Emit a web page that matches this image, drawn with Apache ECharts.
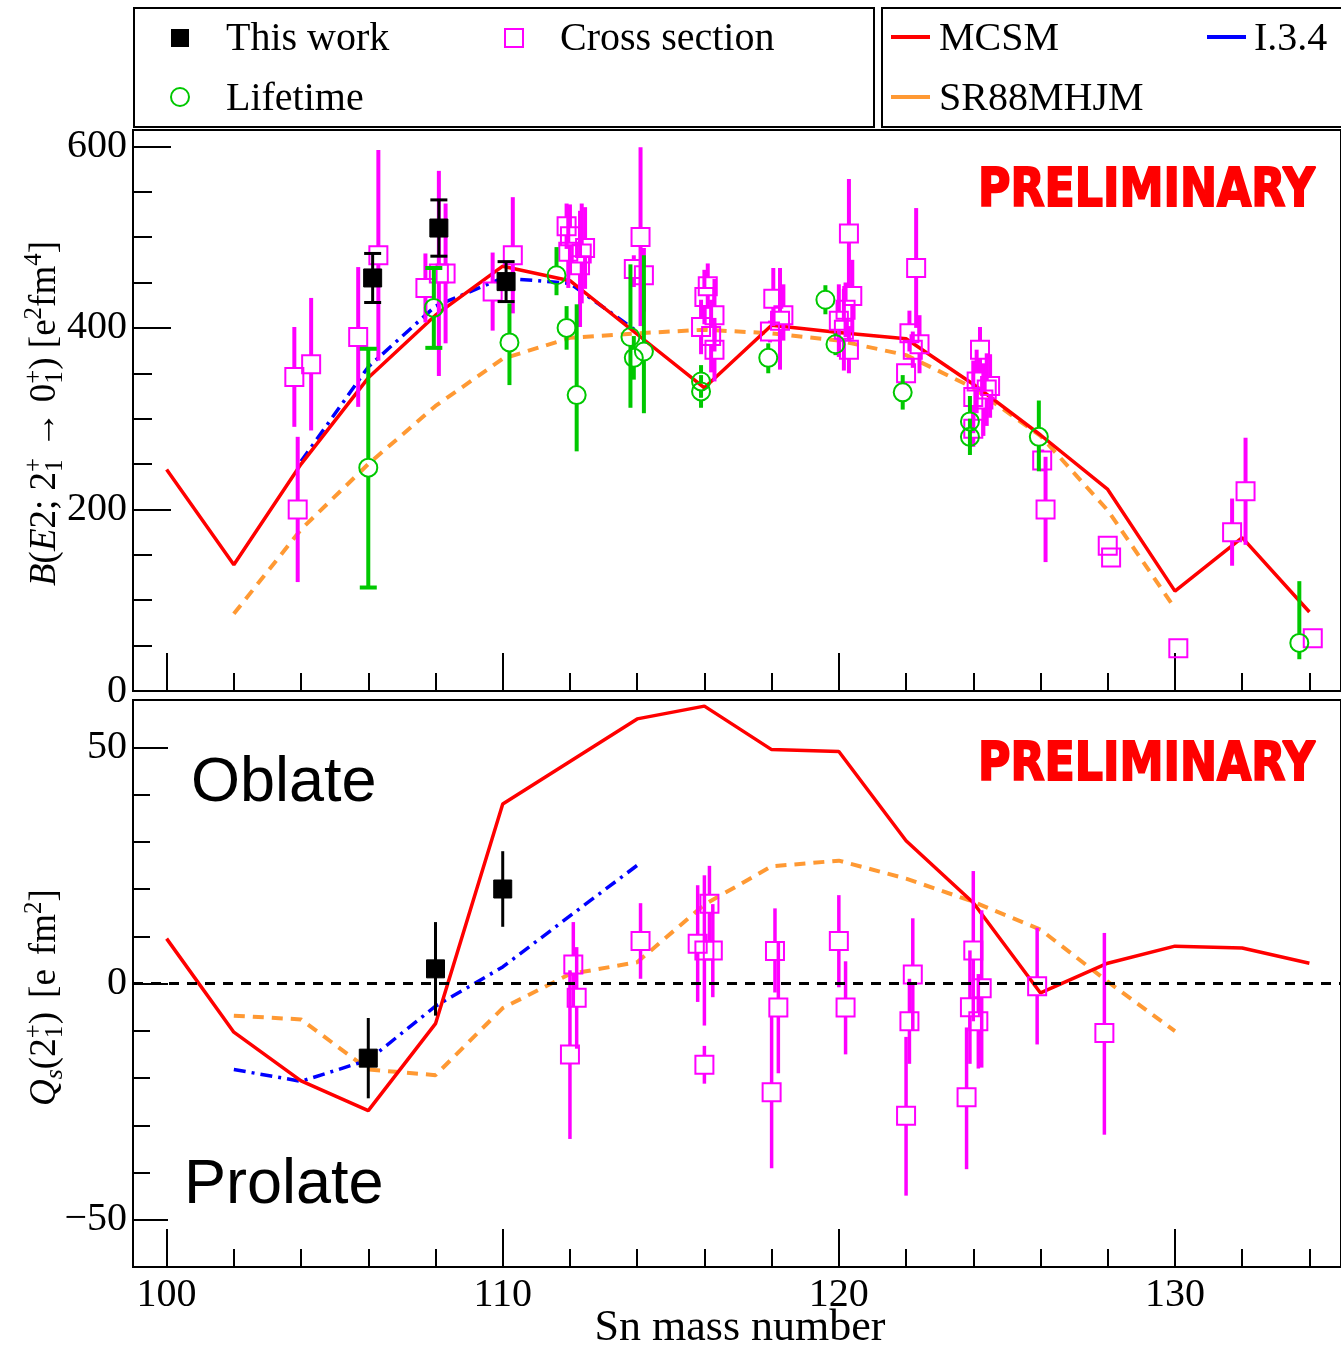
<!DOCTYPE html>
<html><head><meta charset="utf-8">
<script src="https://cdn.jsdelivr.net/npm/echarts@6/dist/echarts.min.js"></script>
<style>html,body{margin:0;padding:0;background:#fff}#c{width:1341px;height:1346px}</style>
</head><body><div id="c"></div>
<script>
// ================= DATA =================
// Theory calculations (even Sn isotopes)
const massEven = [100,102,104,106,108,110,112,114,116,118,120,122,124,126,128,130,132,134];
const mcsmBE2  = [244,139,250,345,414,468,452,393,334,403,395,388,338,282,222,110,169,87];
const mcsmQ    = [9.5,-10.3,-20.6,-26.9,-8.5,38.0,47.0,56.0,58.7,49.5,49.1,30.2,17.1,-2.0,4.3,7.9,7.5,4.3];

const i34MassBE2 = [104,106,108,110,112,114];
const i34BE2     = [253,357,424,455,449,396];
const i34MassQ   = [102,104,106,108,110,112,114];
const i34Q       = [-18.2,-20.7,-16.2,-4.8,3.5,14.3,25.0];

const sr88Mass = [102,104,106,108,110,112,114,116,118,120,122,124,126,128,130];
const sr88BE2  = [85,178,250,314,366,389,394,398,394,386,370,334,281,199,91];
const sr88Q    = [-6.8,-7.6,-18.2,-19.4,-5.2,2.0,4.5,16.7,24.8,26.0,22.2,17.3,11.4,0.4,-10.1];

// Experimental points: [mass, value, error below, error above]
const thisWorkBE2 = [[106.13,455,27,27],[108.1,510,31,31],[110.1,451,22,22]];
const thisWorkQ   = [[106.0,-15.8,8.5,8.5],[108.0,3.1,9.9,9.9],[110.0,20.0,8,8]];

const lifetimeBE2Capped = [[106.0,246,132,131],[107.95,422,44,44]];
const lifetimeBE2 = [
  [110.2,384,47,43],[111.6,458,22,31],[111.9,400,24,24],[112.2,326,62,100],
  [113.8,390,78,80],[113.9,367,24,24],[114.2,374,68,106],
  [115.9,341,18,18],[115.9,330,18,18],[117.9,367,17,16],
  [119.6,431,16,16],[119.9,382,12,12],[121.9,329,19,19],
  [123.9,297,28,28],[123.9,280,20,20],[125.95,280,38,40],[133.7,53,18,68]
];

const crossBE2 = [
  [103.8,346,55,55],[104.3,360,73,73],[103.9,200,80,80],
  [105.7,390,77,77],[106.3,480,116,116],
  [107.7,444,38,38],[108.1,460,113,113],[108.3,460,77,77],
  [109.7,440,43,43],[110.3,480,64,64],
  [111.9,512,25,25],[112.0,501,35,35],[111.95,484,40,40],[112.35,482,55,55],[112.3,469,68,60],[112.45,488,45,45],
  [114.1,500,98,99],[113.9,465,20,15],[114.2,458,40,30],
  [116.1,446,25,25],[116.0,434,30,30],[116.3,414,40,40],[115.9,401,30,30],[116.2,391,40,40],[116.3,376,35,35],
  [118.05,432,30,34],[118.35,414,28,34],[118.25,408,54,58],[117.95,396,12,12],
  [120.3,504,60,60],[120.4,435,40,40],[120.2,420,30,30],[120.0,408,40,40],[120.15,398,45,45],[120.3,376,26,26],
  [122.3,466,66,66],[122.1,394,20,25],[122.4,382,32,32],[122.2,376,20,20],[122.0,350,8,8],
  [124.2,376,25,25],[124.1,341,35,35],[124.0,324,40,40],[124.4,332,40,40],[124.5,336,35,35],[124.3,321,40,40],[124.0,289,20,20],
  [126.05,254,12,12],[126.15,200,58,58],
  [128.0,160,0,0],[128.1,147,0,0],
  [130.1,47,0,0],
  [131.7,175,37,37],[132.1,220,59,59],
  [134.1,58,0,0]
];

const crossQ = [
  [112.1,4.0,9,9],[112.2,-3.0,10.8,10.7],[112.0,-15.0,17.9,17.8],
  [114.1,9.0,8,8],
  [115.8,8.4,12.3,12.4],[116.15,16.9,8,8],[116.0,7.0,15.9,15.9],[116.25,7.0,9.9,9.8],[116.0,-17.2,4,4],
  [118.1,6.9,8.8,9.0],[118.2,-5.1,13.9,13.7],[118.0,-23.0,16.1,16],
  [120.0,9.0,9.8,9.7],[120.2,-5.1,9.9,9.8],
  [122.2,1.9,11.9,11.9],[122.1,-8.0,9,9],[122.0,-28.0,16.9,16.7],
  [124.0,7.0,15,16.8],[124.25,-1.0,16.8,16.5],[123.9,-5.0,12,12],[124.15,-8.0,10,10],[123.8,-24.1,15.2,14.8],
  [125.9,-0.6,12.3,12.4],
  [127.9,-10.5,21.5,21.2]
];

// Axis ticks / labels
const xMajorTicks = [100,110,120,130];
const xMinorTicks = [102,104,106,108,112,114,116,118,122,124,126,128,132,134];
const yTopMajor = [0,200,400,600];
const yTopMinor = [50,100,150,250,300,350,450,500,550];
const yBotMajor = [-50,0,50];
const yBotMinor = [-40,-30,-20,-10,10,20,30,40];

// ================= CHART =================
const X_MIN = 99.0, X_MAX = 134.94;
const SERIF = '"Liberation Serif","Times New Roman",serif';
const SANS = '"Liberation Sans",Arial,sans-serif';
const C_MAG = '#ff00ff', C_GRN = '#00c800', C_RED = '#ff0000', C_BLU = '#0000ff', C_ORA = '#ff9933';

const pairs = (xs, ys) => xs.map((x, i) => [x, ys[i]]);

function xAxes(grid, showLabels) {
  return [{
    type: 'value', gridIndex: grid, min: X_MIN, max: X_MAX, position: 'bottom',
    axisLine: {show: true, onZero: false, lineStyle: {color: '#000', width: 2}},
    axisTick: {show: true, inside: true, length: 38, lineStyle: {color: '#000', width: 2}, customValues: xMajorTicks},
    axisLabel: {show: showLabels, customValues: xMajorTicks, fontFamily: SERIF, fontSize: 40, color: '#000', margin: 8},
    splitLine: {show: false}
  }, {
    type: 'value', gridIndex: grid, min: X_MIN, max: X_MAX, position: 'bottom',
    axisLine: {show: false, onZero: false},
    axisTick: {show: true, inside: true, length: 18, lineStyle: {color: '#000', width: 2}, customValues: xMinorTicks},
    axisLabel: {show: false}, splitLine: {show: false}
  }];
}
function yAxes(grid, min, max, major, minor, majLen, minLen) {
  return [{
    type: 'value', gridIndex: grid, min: min, max: max, position: 'left',
    axisLine: {show: true, onZero: false, lineStyle: {color: '#000', width: 2}},
    axisTick: {show: true, inside: true, length: majLen, lineStyle: {color: '#000', width: 2}, customValues: major},
    axisLabel: {show: true, customValues: major, fontFamily: SERIF, fontSize: 40, color: '#000', margin: 6,
      formatter: v => String(v).replace('-', '\u2212')},
    splitLine: {show: false}
  }, {
    type: 'value', gridIndex: grid, min: min, max: max, position: 'left',
    axisLine: {show: false, onZero: false},
    axisTick: {show: true, inside: true, length: minLen, lineStyle: {color: '#000', width: 2}, customValues: minor},
    axisLabel: {show: false}, splitLine: {show: false}
  }];
}

function lineSeries(data, xi, yi, color, width, type, z) {
  return {type: 'line', xAxisIndex: xi, yAxisIndex: yi, data: data, symbol: 'none', z: z || 2,
    lineStyle: {color: color, width: width, type: type || 'solid'}, silent: true};
}

function errSeries(data, xi, yi, o) {
  return {
    type: 'custom', xAxisIndex: xi, yAxisIndex: yi, z: o.z || 3, silent: true,
    dimensions: ['x', 'y', 'lo', 'hi'], encode: {x: 0, y: 1}, data: data,
    renderItem: function (params, api) {
      const x = api.value(0), y = api.value(1), lo = api.value(2), hi = api.value(3);
      const p = api.coord([x, y]), pl = api.coord([x, y - lo]), ph = api.coord([x, y + hi]);
      const half = o.size / 2, gap = o.filled ? 0 : half;
      const ls = {stroke: o.color, lineWidth: o.barWidth};
      const ch = [];
      if (ph[1] < p[1] - gap) ch.push({type: 'line', shape: {x1: p[0], y1: ph[1], x2: p[0], y2: p[1] - gap}, style: ls});
      if (pl[1] > p[1] + gap) ch.push({type: 'line', shape: {x1: p[0], y1: p[1] + gap, x2: p[0], y2: pl[1]}, style: ls});
      if (o.cap && (lo > 0 || hi > 0)) {
        const cw = o.capWidth / 2;
        ch.push({type: 'line', shape: {x1: p[0] - cw, y1: ph[1], x2: p[0] + cw, y2: ph[1]}, style: ls});
        ch.push({type: 'line', shape: {x1: p[0] - cw, y1: pl[1], x2: p[0] + cw, y2: pl[1]}, style: ls});
      }
      if (o.shape === 'circle') {
        ch.push({type: 'circle', shape: {cx: p[0], cy: p[1], r: half}, style: {fill: 'none', stroke: o.color, lineWidth: 2}});
      } else {
        ch.push({type: 'rect', shape: {x: p[0] - half, y: p[1] - half, width: o.size, height: o.size},
          style: o.filled ? {fill: o.color, stroke: o.color, lineWidth: 1} : {fill: 'none', stroke: o.color, lineWidth: 2}});
      }
      return {type: 'group', children: ch};
    }
  };
}

function txt(x, y, text, size, family) {
  return {type: 'text', x: x, y: y, z: 100,
    style: {text: text, fontSize: size, fontFamily: family, fill: '#000',
      align: 'left', verticalAlign: 'middle', textAlign: 'left', textVerticalAlign: 'middle'}};
}

const richBase = {
  it:   {fontFamily: SERIF, fontSize: 37, fontStyle: 'italic', lineHeight: 46, fill: '#000', align: 'left'},
  sub:  {fontFamily: SERIF, fontSize: 25, lineHeight: 25, verticalAlign: 'bottom', fill: '#000', align: 'left', width: 0},
  subi: {fontFamily: SERIF, fontSize: 26, lineHeight: 25, verticalAlign: 'bottom', fontStyle: 'italic', fill: '#000', align: 'left'},
  sup:  {fontFamily: SERIF, fontSize: 25, lineHeight: 25, verticalAlign: 'top', fill: '#000', align: 'left'},
  gap:  {fontFamily: SERIF, fontSize: 37, lineHeight: 46, fill: '#000', align: 'left', width: 14}
};
// rotated title, (x, y) = start (bottom end) of the text
function rotTitle(x, y, text) {
  return {type: 'text', x: x, y: y, rotation: Math.PI / 2, z: 100,
    style: {text: text, rich: richBase, fontFamily: SERIF, fontSize: 37, lineHeight: 46, fill: '#000',
      align: 'left', verticalAlign: 'middle', textAlign: 'left', textVerticalAlign: 'middle'}};
}
function prelim(x, y) {
  return {type: 'text', x: x, y: y, scaleX: 0.82, z: 100,
    style: {text: 'PRELIMINARY', fontFamily: '"DejaVu Sans",sans-serif', fontWeight: 'bold', fontSize: 54,
      fill: C_RED, stroke: C_RED, lineWidth: 2, align: 'left', verticalAlign: 'middle', textAlign: 'left', textVerticalAlign: 'middle'}};
}

const graphics = [
  // legend boxes
  {type: 'rect', z: 100, shape: {x: 134, y: 8, width: 740, height: 119}, style: {fill: 'none', stroke: '#000', lineWidth: 2}},
  {type: 'rect', z: 100, shape: {x: 882, y: 8, width: 470, height: 119}, style: {fill: 'none', stroke: '#000', lineWidth: 2}},
  // legend markers
  {type: 'rect', z: 100, shape: {x: 171, y: 29, width: 18, height: 18}, style: {fill: '#000'}},
  {type: 'rect', z: 100, shape: {x: 505, y: 29, width: 18, height: 18}, style: {fill: 'none', stroke: C_MAG, lineWidth: 2}},
  {type: 'circle', z: 100, shape: {cx: 180, cy: 97, r: 9}, style: {fill: 'none', stroke: C_GRN, lineWidth: 2}},
  {type: 'line', z: 100, shape: {x1: 891, y1: 37, x2: 930, y2: 37}, style: {stroke: C_RED, lineWidth: 4}},
  {type: 'line', z: 100, shape: {x1: 1207, y1: 37, x2: 1246, y2: 37}, style: {stroke: C_BLU, lineWidth: 4}},
  {type: 'line', z: 100, shape: {x1: 891, y1: 97, x2: 930, y2: 97}, style: {stroke: C_ORA, lineWidth: 4}},
  txt(226, 39, 'This work', 40, SERIF),
  txt(560, 39, 'Cross section', 40, SERIF),
  txt(226, 99, 'Lifetime', 40, SERIF),
  txt(939, 39, 'MCSM', 40, SERIF),
  txt(1254, 39, 'I.3.4', 40, SERIF),
  txt(939, 99, 'SR88MHJM', 40, SERIF),
  // axis titles
  rotTitle(45, 586, '{it|B}({it|E}2; 2{sub|1}{sup|+} \u2192 0{sub|1}{sup|+}) [e{sup|2}fm{sup|4}]'),
  rotTitle(45, 1106, '{it|Q}{subi|s}(2{sub|1}{sup|+}){gap| }[e{gap| }fm{sup|2}]'),
  {type: 'text', x: 740, y: 1328, z: 100, style: {text: 'Sn mass number', fontFamily: SERIF, fontSize: 44, fill: '#000',
    align: 'center', verticalAlign: 'middle', textAlign: 'center', textVerticalAlign: 'middle'}},
  // annotations
  prelim(978, 192),
  prelim(978, 766),
  txt(191, 784, 'Oblate', 63, SANS),
  txt(184, 1186, 'Prolate', 63, SANS)
];

const series = [
  // top panel theory
  lineSeries(pairs(sr88Mass, sr88BE2), 0, 0, C_ORA, 4, [11, 8]),
  lineSeries(pairs(i34MassBE2, i34BE2), 0, 0, C_BLU, 3.5, [12, 6, 3, 6]),
  lineSeries(pairs(massEven, mcsmBE2), 0, 0, C_RED, 3.5, 'solid'),
  // top panel data
  errSeries(crossBE2, 0, 0, {color: C_MAG, size: 18, barWidth: 4, shape: 'rect', z: 3}),
  errSeries(lifetimeBE2, 0, 0, {color: C_GRN, size: 18, barWidth: 4, shape: 'circle', z: 4}),
  errSeries(lifetimeBE2Capped, 0, 0, {color: C_GRN, size: 18, barWidth: 4, shape: 'circle', cap: true, capWidth: 17, z: 4}),
  errSeries(thisWorkBE2, 0, 0, {color: '#000', size: 18, barWidth: 3, shape: 'rect', filled: true, cap: true, capWidth: 17, z: 5}),
  // bottom panel theory
  lineSeries(pairs(sr88Mass, sr88Q), 2, 2, C_ORA, 4, [11, 8]),
  lineSeries(pairs(i34MassQ, i34Q), 2, 2, C_BLU, 3.5, [12, 6, 3, 6]),
  lineSeries(pairs(massEven, mcsmQ), 2, 2, C_RED, 3.5, 'solid'),
  // bottom panel data
  errSeries(crossQ, 2, 2, {color: C_MAG, size: 18, barWidth: 3.5, shape: 'rect', z: 3}),
  errSeries(thisWorkQ, 2, 2, {color: '#000', size: 18, barWidth: 3, shape: 'rect', filled: true, z: 5}),
  // zero reference line
  lineSeries([[X_MIN, 0], [X_MAX, 0]], 2, 2, '#000', 3, [10, 8], 6)
];

const option = {
  animation: false,
  backgroundColor: '#fff',
  grid: [
    {left: 133, top: 130, width: 1210, height: 561, show: true, borderColor: '#000', borderWidth: 2, backgroundColor: 'transparent'},
    {left: 133, top: 700, width: 1210, height: 567, show: true, borderColor: '#000', borderWidth: 2, backgroundColor: 'transparent'}
  ],
  xAxis: [].concat(xAxes(0, false), xAxes(1, true)),
  yAxis: [].concat(yAxes(0, 0, 618, yTopMajor, yTopMinor, 38, 19), yAxes(1, -60, 60, yBotMajor, yBotMinor, 35, 17)),
  series: series,
  graphic: {elements: graphics}
};

const chart = echarts.init(document.getElementById('c'), null, {renderer: 'canvas'});
chart.setOption(option);
</script>
</body></html>
